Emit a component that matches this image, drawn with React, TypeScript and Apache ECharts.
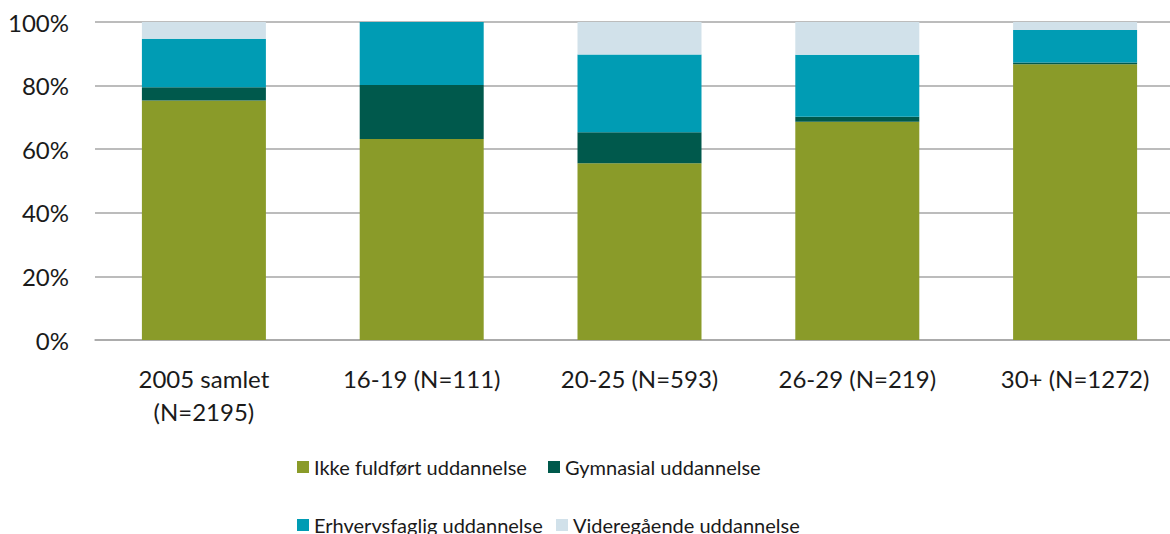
import React, { useEffect, useRef } from "react";
import * as echarts from "echarts";

const categories = ["2005 samlet\n(N=2195)", "16-19 (N=111)", "20-25 (N=593)", "26-29 (N=219)", "30+ (N=1272)"];
const seriesNames = ["Ikke fuldført uddannelse", "Gymnasial uddannelse", "Erhvervsfaglig uddannelse", "Videregående uddannelse"];
const ikke = [75.3, 63.2, 55.6, 68.6, 86.7];
const gym = [4.2, 17.0, 9.7, 1.6, 0.6];
const erhv = [15.2, 19.8, 24.5, 19.5, 10.2];
const vid = [5.3, 0, 10.2, 10.3, 2.5];
const yTicks = [0, 20, 40, 60, 80, 100];

const colors = ["#8A9B29", "#00594C", "#009CB4", "#D1E1EA"];
const FONT = "Lato";

export default function App() {
  const ref = useRef<HTMLDivElement>(null);
  useEffect(() => {
    if (!ref.current) return;
    const chart = echarts.init(ref.current, undefined, { renderer: "svg" });
    const values = [ikke, gym, erhv, vid];
    const legendPos = [
      { left: 297, top: 455 },
      { left: 548, top: 455 },
      { left: 297, top: 513 },
      { left: 556, top: 513 },
    ];
    chart.setOption({
      animation: false,
      color: colors,
      grid: { left: 95, right: 0, top: 22, bottom: 194, containLabel: false },
      legend: seriesNames.map((n, i) => ({
        data: [n],
        left: legendPos[i].left,
        top: legendPos[i].top,
        orient: "horizontal",
        itemWidth: 12,
        itemHeight: 12,
        icon: "rect",
        padding: 0,
        textStyle: { fontFamily: FONT, fontSize: 20, color: "#1a1a1a", lineHeight: 24 },
      })),
      xAxis: {
        type: "category",
        data: categories,
        axisLine: { show: true, lineStyle: { color: "#a6a6a6", width: 1.5 } },
        axisTick: { show: false },
        axisLabel: { fontFamily: FONT, fontSize: 24, color: "#1a1a1a", lineHeight: 33, margin: 22, interval: 0 },
      },
      yAxis: {
        type: "value",
        min: yTicks[0],
        max: yTicks[yTicks.length - 1],
        interval: 20,
        axisLine: { show: false },
        axisTick: { show: false },
        splitLine: { lineStyle: { color: "#a6a6a6", width: 1.5 } },
        axisLabel: { formatter: "{value}%", fontFamily: FONT, fontSize: 24, color: "#1a1a1a", margin: 26 },
      },
      series: seriesNames.map((n, i) => ({
        name: n,
        type: "bar",
        stack: "total",
        barWidth: 124,
        data: values[i],
        itemStyle: { color: colors[i] },
      })),
    });
    return () => chart.dispose();
  }, []);
  return <div ref={ref} style={{ position: "fixed", left: 0, top: 0, width: 1184, height: 534, background: "#fff" }} />;
}
